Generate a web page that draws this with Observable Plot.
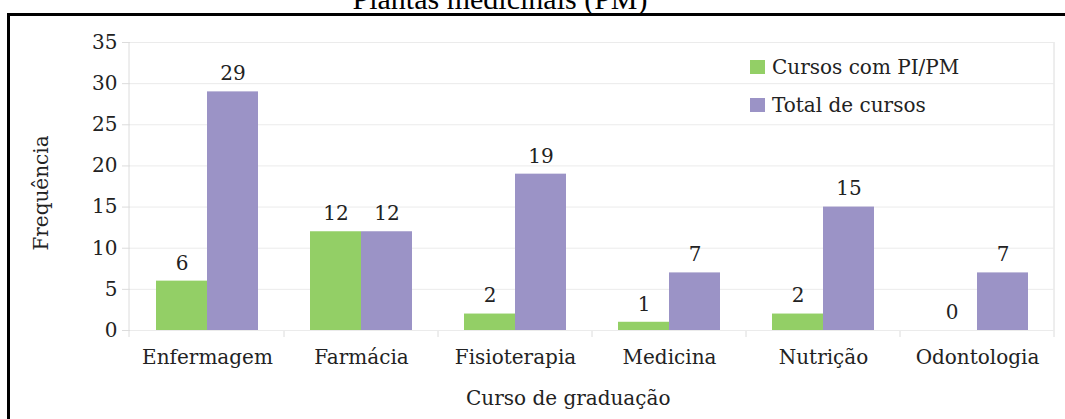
<!DOCTYPE html>
<html>
<head>
<meta charset="utf-8">
<script src="https://cdn.jsdelivr.net/npm/d3@7"></script>
<script src="https://cdn.jsdelivr.net/npm/@observablehq/plot@0.6"></script>
<style>
  body { margin: 0; background: #fff; }
  #wrap { position: relative; width: 1065px; height: 419px; overflow: hidden; font-family: "DejaVu Serif", serif; color: #222; }
  #title { position: absolute; left: 0; width: 1000px; top: -16px; line-height: 30px; text-align: center; font-family: "Liberation Serif", serif; font-size: 30px; color: #000; white-space: nowrap; }
  #border { position: absolute; left: 7px; top: 13px; width: 1200px; height: 600px; border: 3px solid #000; box-sizing: border-box; }
  #chart { position: absolute; left: 0; top: 0; }
  #legend { position: absolute; left: 750px; top: 54px; font-size: 20px; line-height: 26px; }
  .row { display: flex; align-items: center; height: 26px; margin-bottom: 12px; }
  .sw { width: 15px; height: 14px; margin-right: 7px; }
  #xlabel { position: absolute; left: 466px; width: 200px; text-align: center; top: 385px; font-size: 20px; line-height: 26px; white-space: nowrap; }
</style>
</head>
<body>
<div id="wrap">
  <div id="border"></div>
  <div id="title">Plantas medicinais (PM)</div>
  <div id="chart"></div>
  <div id="legend"></div>
  <div id="xlabel">Curso de graduação</div>
</div>
<script>
const categories = ["Enfermagem", "Farmácia", "Fisioterapia", "Medicina", "Nutrição", "Odontologia"];
const series = ["Cursos com PI/PM", "Total de cursos"];
const cursosComPIPM = [6, 12, 2, 1, 2, 0];
const totalDeCursos = [29, 12, 19, 7, 15, 7];
const yTicks = [0, 5, 10, 15, 20, 25, 30, 35];
const colors = ["#93cf66", "#9b93c6"];
const yLabel = "Frequência";

const data = categories.flatMap((c, i) => [
  { curso: c, serie: series[0], valor: cursosComPIPM[i] },
  { curso: c, serie: series[1], valor: totalDeCursos[i] }
]);

const plot = Plot.plot({
  width: 1065,
  height: 419,
  marginLeft: 129,
  marginRight: 11,
  marginTop: 42,
  marginBottom: 89,
  style: { fontFamily: "DejaVu Serif, serif", fontSize: "20px", color: "#222", background: "transparent" },
  fx: { domain: categories, paddingInner: 0, paddingOuter: 0, label: null },
  x: { domain: series, paddingInner: 0, paddingOuter: 0.5, axis: null },
  y: { domain: [0, 35] },
  color: { domain: series, range: colors },
  marks: [
    Plot.gridY(yTicks, { stroke: "#ebebeb", strokeOpacity: 1 }),
    Plot.axisY(yTicks, { tickSize: 8, tickPadding: 5, stroke: "#dcdcdc", fill: "#222", label: null, fontSize: 20 }),
    Plot.axisFx({ anchor: "bottom", tickSize: 0, tickPadding: 19, label: null, fill: "#222", fontSize: 20 }),
    Plot.barY(data, { fx: "curso", x: "serie", y: "valor", fill: "serie" }),
    Plot.text(data, { fx: "curso", x: "serie", y: "valor", text: d => String(d.valor), dy: -18, fill: "#222", fontSize: 20 })
  ]
});

document.getElementById("chart").appendChild(plot);

// Category separators and frame edges, from the plot's own scales
const fx = plot.scale("fx");
const y = plot.scale("y");
const svg = d3.select(plot);
const y0 = y.apply(0), yTop = y.apply(yTicks[yTicks.length - 1]);
const bounds = categories.map(c => fx.apply(c));
bounds.push(fx.apply(categories[categories.length - 1]) + fx.bandwidth);
const g = svg.insert("g", ":first-child").attr("stroke", "#dcdcdc").attr("stroke-width", 1);
bounds.forEach((bx, i) => {
  const edge = i === 0 || i === bounds.length - 1;
  g.append("line")
    .attr("x1", bx - (i === 0 ? 1 : 0)).attr("x2", bx - (i === 0 ? 1 : 0))
    .attr("y1", edge ? yTop : y0).attr("y2", y0 + 7);
});

// y axis title
svg.append("text")
  .attr("transform", `translate(48,${(y0 + yTop) / 2 + 7}) rotate(-90)`)
  .attr("text-anchor", "middle")
  .attr("fill", "#222")
  .style("font-size", "20px")
  .text(yLabel);

// Legend
const legend = d3.select("#legend");
series.forEach((s, i) => {
  const row = legend.append("div").attr("class", "row");
  row.append("div").attr("class", "sw").style("background", colors[i]);
  row.append("span").text(s);
});
</script>
</body>
</html>
